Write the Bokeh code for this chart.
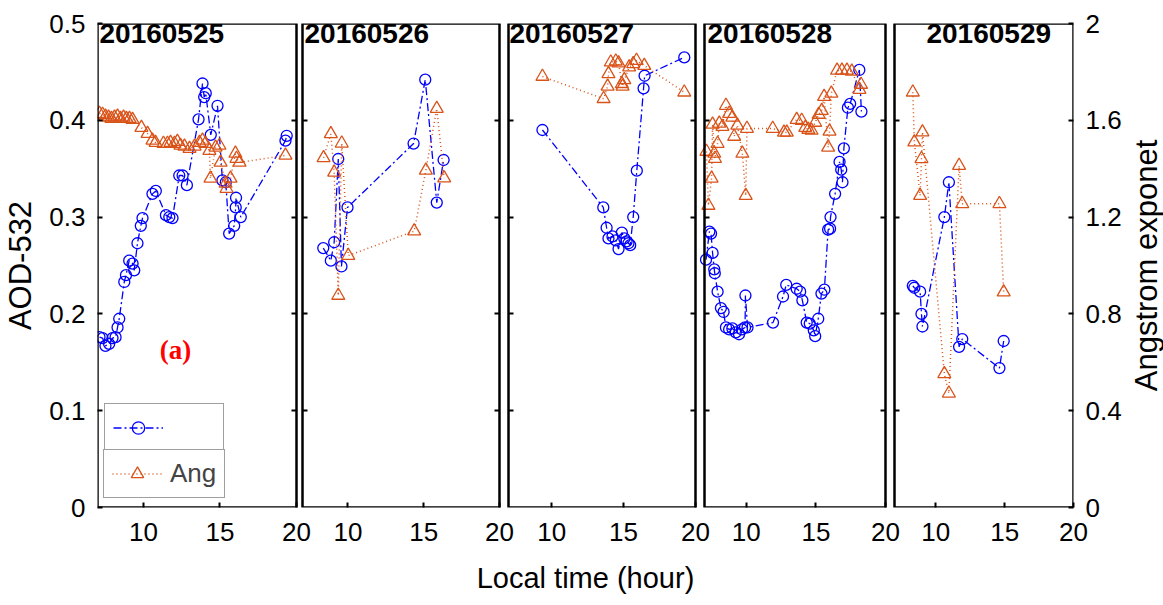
from bokeh.plotting import figure
from bokeh.layouts import row
from bokeh.models import (Range1d, LinearAxis, FixedTicker, BoxAnnotation, Label,
                          Legend, LegendItem)
from bokeh.embed import file_html
from bokeh.resources import INLINE

# ---------------- data ----------------
days = ["20160525", "20160526", "20160527", "20160528", "20160529"]

t_aod_0525 = [7.13, 7.33, 7.52, 7.76, 7.98, 8.18, 8.31, 8.42, 8.75, 8.86, 9.07, 9.29, 9.40, 9.61,
              9.83, 9.94, 10.59, 10.81, 11.47, 11.69, 11.90, 12.34, 12.56, 12.84, 13.60, 13.86,
              13.97, 14.07, 14.40, 14.84, 15.16, 15.38, 15.60, 15.93, 16.03, 16.05, 16.36, 19.28, 19.36]
aod_0525 = [0.176, 0.175, 0.167, 0.169, 0.175, 0.176, 0.186, 0.195, 0.233, 0.240, 0.255, 0.252, 0.245,
            0.273, 0.291, 0.299, 0.324, 0.327, 0.302, 0.300, 0.299, 0.343, 0.343, 0.333, 0.401, 0.438,
            0.424, 0.428, 0.385, 0.415, 0.338, 0.336, 0.283, 0.291, 0.310, 0.320, 0.300, 0.379, 0.384]
t_ang_0525 = [7.13, 7.33, 7.52, 7.72, 7.91, 8.11, 8.31, 8.50, 8.70, 8.89, 9.09, 9.29, 9.87, 10.27,
              10.59, 10.79, 11.31, 11.57, 11.77, 12.03, 12.22, 12.42, 12.68, 13.01, 13.34, 13.66,
              13.86, 14.05, 14.31, 14.38, 14.71, 14.97, 15.04, 15.37, 15.43, 15.69, 16.01, 16.08,
              16.28, 19.28]
ang_0525 = [1.628, 1.624, 1.616, 1.612, 1.607, 1.612, 1.616, 1.607, 1.612, 1.607, 1.607, 1.603, 1.570,
            1.545, 1.517, 1.508, 1.504, 1.504, 1.508, 1.504, 1.512, 1.496, 1.492, 1.483, 1.492, 1.508,
            1.517, 1.504, 1.475, 1.360, 1.488, 1.496, 1.426, 1.339, 1.318, 1.360, 1.463, 1.442, 1.426,
            1.455]

t_aod_0526 = [8.37, 8.87, 9.09, 9.36, 9.57, 9.97, 14.33, 15.10, 15.86, 16.31]
aod_0526 = [0.268, 0.255, 0.274, 0.360, 0.249, 0.310, 0.376, 0.442, 0.315, 0.359]
t_ang_0526 = [8.39, 8.87, 9.09, 9.36, 9.59, 10.02, 14.37, 15.14, 15.86, 16.35]
ang_0526 = [1.445, 1.544, 1.385, 0.876, 1.505, 1.041, 1.142, 1.393, 1.648, 1.361]

t_aod_0527 = [9.36, 13.59, 13.82, 13.95, 14.23, 14.46, 14.65, 14.88, 15.05, 15.21, 15.34, 15.46,
              15.67, 15.92, 16.39, 16.46, 19.22]
aod_0527 = [0.390, 0.310, 0.289, 0.278, 0.280, 0.276, 0.267, 0.284, 0.278, 0.275, 0.273, 0.271,
            0.300, 0.348, 0.433, 0.446, 0.465]
t_ang_0527 = [9.36, 13.61, 13.89, 13.95, 14.11, 14.46, 14.65, 14.88, 14.93, 15.05, 15.39, 15.67,
              15.90, 16.44, 19.22]
ang_0527 = [1.781, 1.689, 1.740, 1.792, 1.840, 1.844, 1.836, 1.751, 1.740, 1.767, 1.820, 1.833,
            1.847, 1.826, 1.716]

t_aod_0528 = [7.11, 7.35, 7.47, 7.58, 7.70, 7.74, 7.94, 8.18, 8.37, 8.54, 8.77, 9.00, 9.25, 9.48,
              9.69, 9.91, 9.94, 10.09, 11.92, 12.64, 12.87, 13.62, 13.87, 14.03, 14.34, 14.56, 14.85,
              14.95, 15.17, 15.40, 15.61, 15.88, 16.02, 16.05, 16.38, 16.70, 16.82, 16.91, 17.01,
              17.30, 17.46, 18.12, 18.27]
aod_0528 = [0.256, 0.285, 0.283, 0.263, 0.246, 0.242, 0.223, 0.206, 0.202, 0.186, 0.184, 0.185, 0.181,
            0.179, 0.184, 0.186, 0.219, 0.186, 0.191, 0.218, 0.230, 0.226, 0.223, 0.214, 0.191, 0.190,
            0.183, 0.177, 0.195, 0.221, 0.225, 0.287, 0.288, 0.300, 0.324, 0.357, 0.349, 0.336, 0.371,
            0.413, 0.417, 0.452, 0.409]
t_ang_0528 = [7.14, 7.28, 7.51, 7.58, 7.70, 7.75, 7.94, 8.06, 8.29, 8.54, 8.77, 9.00, 9.13, 9.36,
              9.72, 9.96, 10.05, 11.90, 12.71, 12.91, 13.62, 13.98, 14.24, 14.46, 14.69, 14.95, 15.20,
              15.42, 15.59, 15.88, 15.98, 16.11, 16.52, 16.87, 17.23, 17.58, 18.13, 18.24]
ang_0528 = [1.471, 1.248, 1.360, 1.583, 1.463, 1.442, 1.504, 1.587, 1.574, 1.661, 1.628, 1.612, 1.533,
            1.579, 1.463, 1.289, 1.566, 1.566, 1.550, 1.550, 1.603, 1.599, 1.570, 1.562, 1.558, 1.591,
            1.624, 1.640, 1.698, 1.488, 1.554, 1.711, 1.806, 1.806, 1.806, 1.802, 1.727, 1.748]

t_aod_0529 = [8.33, 8.44, 8.86, 8.96, 9.03, 10.62, 10.95, 11.69, 11.92, 14.62, 14.93]
aod_0529 = [0.229, 0.227, 0.223, 0.200, 0.187, 0.300, 0.336, 0.166, 0.174, 0.144, 0.172]
t_ang_0529 = [8.33, 8.44, 8.86, 8.96, 9.03, 10.62, 10.95, 11.69, 11.92, 14.62, 14.93]
ang_0529 = [1.716, 1.510, 1.289, 1.441, 1.551, 0.552, 0.472, 1.413, 1.255, 1.255, 0.890]

x_ticks = [10, 15, 20]
x_tick_labels = ["10", "15", "20"]
aod_ticks = [0, 0.1, 0.2, 0.3, 0.4, 0.5]
aod_tick_labels = ["0", "0.1", "0.2", "0.3", "0.4", "0.5"]
ang_ticks = [0, 0.4, 0.8, 1.2, 1.6, 2.0]
ang_tick_labels = ["0", "0.4", "0.8", "1.2", "1.6", "2"]

series = [
    (t_aod_0525, aod_0525, t_ang_0525, ang_0525),
    (t_aod_0526, aod_0526, t_ang_0526, ang_0526),
    (t_aod_0527, aod_0527, t_ang_0527, ang_0527),
    (t_aod_0528, aod_0528, t_ang_0528, ang_0528),
    (t_aod_0529, aod_0529, t_ang_0529, ang_0529),
]

# ---------------- layout / style ----------------
FONT = "Liberation Sans"
BLUE = "#0000FF"
ORANGE = "#D95319"
FRAME_W, FRAME_H = 976, 484
TOP, BOTTOM = 23, 94
panel_px = [(0, 199), (205, 402), (411, 598), (607, 788), (797, 976)]
X0, X1 = 7, 20
title_x = [7, 7, 7, 7, 9.32]
title_dx = [2, 2, 1, 3, 0]

p = figure(frame_width=FRAME_W, frame_height=FRAME_H,
           x_range=Range1d(0, FRAME_W), y_range=Range1d(0, 0.5),
           x_axis_location=None, y_axis_location=None,
           output_backend="svg", toolbar_location=None,
           min_border_left=95, min_border_right=52, min_border_top=TOP, min_border_bottom=BOTTOM)
p.outline_line_color = None
p.grid.visible = False
p.background_fill_color = "white"
p.border_fill_color = "white"
p.extra_y_ranges["ang"] = Range1d(0, 2)

for i, (L, R) in enumerate(panel_px):
    s = (X1 - X0) / (R - L)
    start = X0 - L * s
    p.extra_x_ranges[f"p{i}"] = Range1d(start, start + FRAME_W * s)


def style_axis(ax, label_size="26px"):
    ax.axis_line_color = None
    ax.major_tick_in = 5
    ax.major_tick_out = 0
    ax.major_tick_line_width = 2
    ax.minor_tick_line_color = None
    ax.major_label_text_font = FONT
    ax.major_label_text_font_size = label_size
    ax.major_label_text_color = "black"
    ax.axis_label_text_font = FONT
    ax.axis_label_text_font_size = "31px"
    ax.axis_label_text_font_style = "normal"
    ax.axis_label_text_color = "black"


legend_renderers = None
for i, (ta, a, tg, g) in enumerate(series):
    name = f"p{i}"
    lb = p.line(ta, a, x_range_name=name, line_color=BLUE, line_width=1.3, line_dash="8 3 2 3")
    sb = p.scatter(ta, a, x_range_name=name, marker="circle", size=11, fill_alpha=0,
                   line_color=BLUE, line_width=1.3)
    lo = p.line(tg, g, x_range_name=name, y_range_name="ang", line_color=ORANGE,
                line_width=1.5, line_dash="1 3")
    so = p.scatter(tg, g, x_range_name=name, y_range_name="ang", marker="triangle", size=13,
                   fill_alpha=0, line_color=ORANGE, line_width=1.3)
    if i == 0:
        legend_renderers = ([lb, sb], [lo, so])

    p.add_layout(BoxAnnotation(left=X0, right=X1, bottom=0, top=0.5, x_range_name=name,
                               fill_alpha=0, line_color="black", line_alpha=1.0,
                               line_width=2.5, level="overlay"))

    # inward tick marks on the inner panel edges (no labels)
    if i > 0:
        la = LinearAxis(x_range_name=name, fixed_location=X0,
                        ticker=FixedTicker(ticks=aod_ticks[1:-1]), major_label_standoff=0)
        style_axis(la)
        la.major_label_text_color = None
        p.add_layout(la, "left")
    if i < 4:
        ra = LinearAxis(x_range_name=name, fixed_location=X1,
                        ticker=FixedTicker(ticks=aod_ticks[1:-1]), major_label_standoff=0)
        style_axis(ra)
        ra.major_label_text_color = None
        p.add_layout(ra, "right")

    p.add_layout(Label(x=title_x[i], y=0.5, x_range_name=name, text=days[i], x_offset=title_dx[i],
                       y_offset=0, text_baseline="top", text_align="left", text_font=FONT,
                       text_font_style="bold", text_font_size="28px", text_color="black"))

# bottom axis: tick positions of every panel on the shared frame
bx_ticks, bx_labels = [], {}
for (L, R) in panel_px:
    for t, lab in zip(x_ticks, x_tick_labels):
        pos = L + (t - X0) * (R - L) / (X1 - X0)
        bx_ticks.append(pos)
        bx_labels[pos] = lab
bottom_axis = LinearAxis(ticker=FixedTicker(ticks=bx_ticks), major_label_overrides=bx_labels,
                         major_label_standoff=15, axis_label="Local time (hour)",
                         axis_label_standoff=18)
style_axis(bottom_axis)
bottom_axis.axis_label_text_font_size = "29px"
p.add_layout(bottom_axis, "below")

left_axis = LinearAxis(ticker=FixedTicker(ticks=aod_ticks),
                       major_label_overrides=dict(zip(aod_ticks, aod_tick_labels)),
                       axis_label="AOD-532", major_label_standoff=12, axis_label_standoff=8)
style_axis(left_axis)
p.add_layout(left_axis, "left")

right_axis = LinearAxis(y_range_name="ang", ticker=FixedTicker(ticks=ang_ticks),
                        major_label_overrides=dict(zip(ang_ticks, ang_tick_labels)),
                        major_label_standoff=12)
style_axis(right_axis)
p.add_layout(right_axis, "right")

p.add_layout(Label(x=11.07, y=0.147, x_range_name="p0", text="(a)", text_color="red",
                   text_font="Liberation Serif", text_font_style="bold", text_font_size="27px"))

common = dict(border_line_color="#404040", border_line_width=1.5, background_fill_color="white",
              background_fill_alpha=1, padding=8, margin=0, spacing=0,
              label_text_font=FONT, label_text_font_size="26px", glyph_width=50,
              glyph_height=31, label_height=31, label_standoff=8)
leg1 = Legend(items=[LegendItem(label=" ", renderers=legend_renderers[0])], location=(7, 55),
              label_width=44, **common)
leg2 = Legend(items=[LegendItem(label="Ang", renderers=legend_renderers[1])], location=(6, 9),
              **common)
p.add_layout(leg1)
p.add_layout(leg2)

# narrow companion figure carrying the right-hand axis title (reads bottom-to-top)
q = figure(frame_width=2, frame_height=FRAME_H, x_range=Range1d(0, 1), y_range=Range1d(0, 2),
           x_axis_location=None, y_axis_location=None,
           output_backend="svg", toolbar_location=None,
           min_border_left=30, min_border_right=0, min_border_top=TOP, min_border_bottom=BOTTOM)
q.outline_line_color = None
q.grid.visible = False
q.background_fill_color = "white"
q.border_fill_color = "white"
qa = LinearAxis(ticker=FixedTicker(ticks=[1.0]), major_label_overrides={1.0: ""},
                axis_label="Angstrom exponet", axis_label_standoff=0,
                major_label_standoff=0)
qa.axis_line_color = None
qa.major_tick_out = 0
qa.major_tick_in = 0
qa.major_tick_line_color = None
qa.minor_tick_line_color = None
qa.major_label_text_color = None
qa.major_label_text_font_size = "1px"
qa.axis_label_text_font = FONT
qa.axis_label_text_font_size = "31px"
qa.axis_label_text_font_style = "normal"
qa.axis_label_text_color = "black"
q.add_layout(qa, "left")

layout = row(p, q, spacing=0)
open("out.html", "w").write(file_html(layout, INLINE))
